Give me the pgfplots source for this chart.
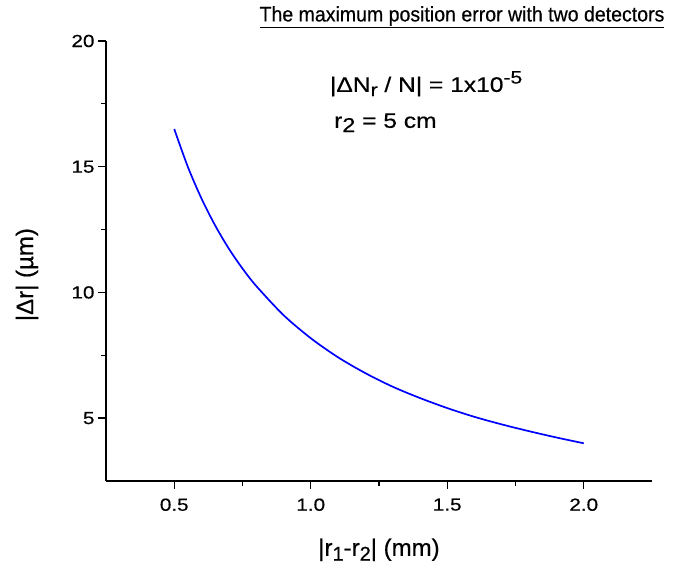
\documentclass[border=0pt]{standalone}
\usepackage{fontspec}
\setmainfont{Liberation Sans}[FakeBold=0.5,AutoFakeBold=0.5]
\newfontfamily\tickfont{Liberation Sans}[FakeStretch=1.18,FakeBold=0.5]
\newfontfamily\notefont{Liberation Sans}[FakeStretch=1.17,FakeBold=0.5]
\newfontfamily\titlefont{Liberation Sans}[FakeStretch=0.93,FakeBold=0.4]
\usepackage{pgfplots}
\pgfplotsset{compat=1.18}
\newcommand\lo[2]{\raisebox{-0.38ex}{\fontsize{#1}{#1}\selectfont #2}}
\newcommand\hi[2]{\raisebox{0.75ex}{\fontsize{#1}{#1}\selectfont #2}}
\begin{document}
\begin{tikzpicture}
\begin{axis}[
  scale only axis,
  width=546pt, height=440pt,
  xmin=0.25, xmax=2.25, ymin=2.5, ymax=20,
  axis x line*=bottom, axis y line*=left,
  axis line style={line width=1.5pt},
  tick style={line width=1.3pt, black},
  tick align=outside,
  major tick length=8pt, minor tick length=5pt,
  xtick={0.5,1.0,1.5,2.0}, ytick={5,10,15,20},
  minor x tick num=1, minor y tick num=1,
  /pgf/number format/assume math mode=true,
  tick label style={font=\tickfont\fontsize{17.5}{20}\selectfont},
  xticklabel style={yshift=-6pt, /pgf/number format/.cd, fixed, fixed zerofill, precision=1},
  yticklabel style={/pgf/number format/.cd, fixed, precision=0},
  xlabel={|r\lo{20}{1}-r\lo{20}{2}| (mm)},
  ylabel={|Δr| (µm)},
  label style={font=\fontsize{24}{28}\selectfont},
  xlabel style={at={(rel axis cs:0.5,0)}, anchor=north, yshift=-54pt},
  ylabel style={at={(rel axis cs:0,0.469)}, anchor=center, yshift=79pt},
  clip=false,
]
\addplot[blue, line width=1.7pt, smooth] coordinates {
(0.50,16.50) (0.55,14.99) (0.60,13.73) (0.65,12.66) (0.70,11.74)
(0.75,10.95) (0.80,10.26) (0.90,9.10) (1.00,8.18) (1.10,7.42)
(1.20,6.79) (1.30,6.25) (1.40,5.80) (1.50,5.40) (1.60,5.05)
(1.70,4.75) (1.80,4.48) (1.90,4.23) (2.00,4.00)
};
\node[anchor=west, font=\notefont\fontsize{21}{24}\selectfont, inner sep=0pt] at (axis cs:1.07,18.3)
  {|ΔN\lo{18}{r} / N| = 1x10\hi{18}{-5}};
\node[anchor=west, font=\notefont\fontsize{21}{24}\selectfont, inner sep=0pt] at (axis cs:1.085,16.75)
  {r\lo{20}{2} = 5 cm};
\node[anchor=center, font=\titlefont\fontsize{21}{24}\selectfont, inner sep=0pt] at (rel axis cs:0.652,1)
  [yshift=24pt] {\underline{The maximum position error with two detectors}};
\path[draw=none] (rel axis cs:0,0) ++(-106pt,-88pt) rectangle ++(683pt,569pt);
\end{axis}
\end{tikzpicture}
\end{document}
